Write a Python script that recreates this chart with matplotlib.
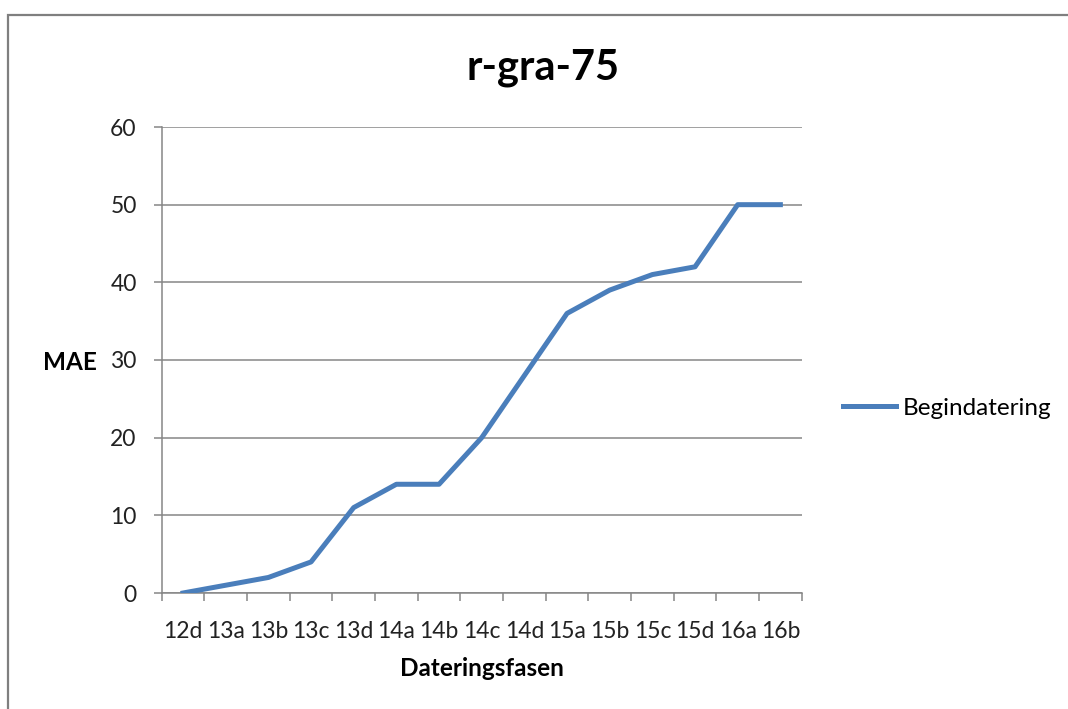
import matplotlib.pyplot as plt
from matplotlib.patches import Rectangle
import numpy as np

phases = ['12d', '13a', '13b', '13c', '13d', '14a', '14b', '14c',
          '14d', '15a', '15b', '15c', '15d', '16a', '16b']
mae = [0, 1, 2, 4, 11, 14, 14, 20, 28, 36, 39, 41, 42, 50, 50]
yticks = [0, 10, 20, 30, 40, 50, 60]

plt.rcParams['font.family'] = ['Lato', 'DejaVu Sans']
grey = '#868686'
blue = '#4A7EBB'

fig = plt.figure(figsize=(10.68, 7.09), dpi=100)
ax = fig.add_axes([161.7 / 1068, 1 - 593 / 709, 640 / 1068, 466 / 709])

x = np.arange(len(phases))
ax.plot(x, mae, color=blue, linewidth=3.6, solid_joinstyle='round',
        label='Begindatering', zorder=3)

ax.set_xlim(-0.5, len(phases) - 0.5)
ax.set_ylim(0, 60)
ax.set_yticks(yticks)
ax.set_xticks(x)
ax.set_xticklabels(phases)
ax.set_xticks(np.arange(len(phases) + 1) - 0.5, minor=True)
ax.tick_params(axis='x', which='major', length=0, pad=20, labelsize=16.5,
               colors='#222222')
ax.tick_params(axis='x', which='minor', length=6, width=1.1, color=grey,
               direction='out')
ax.tick_params(axis='y', length=6, width=1.1, color=grey, pad=12,
               labelsize=16.5, labelcolor='#222222')
ax.grid(axis='y', color=grey, linewidth=1.1)
ax.set_axisbelow(True)
for s in ['top', 'right']:
    ax.spines[s].set_visible(False)
for s in ['left', 'bottom']:
    ax.spines[s].set_color(grey)
    ax.spines[s].set_linewidth(1.1)

fig.text(543 / 1068, 1 - 68 / 709, 'r-gra-75', ha='center', va='center',
         fontsize=30, fontweight='bold')
fig.text(70 / 1068, 1 - 362 / 709, 'MAE', ha='center', va='center',
         fontsize=17.5, fontweight='bold')
fig.text(482 / 1068, 1 - 668 / 709, 'Dateringsfasen', ha='center',
         va='center', fontsize=17.5, fontweight='bold')

ax.legend(loc='center left', bbox_to_anchor=(843 / 1068, 1 - 408 / 709),
          bbox_transform=fig.transFigure, frameon=False, borderpad=0,
          borderaxespad=0, handlelength=2.2, handletextpad=0.25,
          fontsize=17.5)

fig.patches.append(Rectangle((8 / 1068, -0.1), 1.2, 1.1 - 15 / 709,
                             transform=fig.transFigure, fill=False,
                             edgecolor='#7f7f7f', linewidth=1.6))

fig.savefig('out.png', dpi=100)
